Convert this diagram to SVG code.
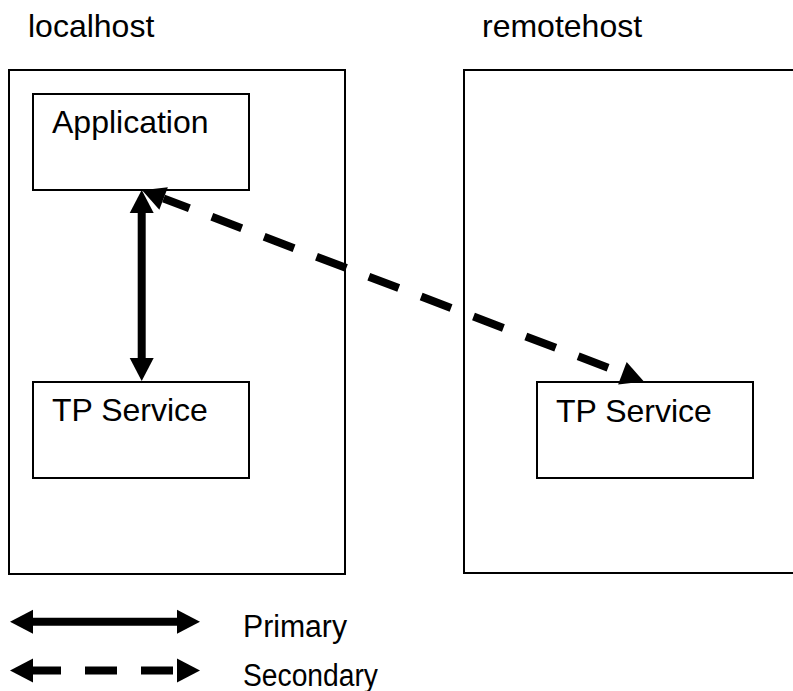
<svg xmlns="http://www.w3.org/2000/svg" width="793" height="691" viewBox="0 0 793 691">
<style>
  .box { fill: #fff; stroke: #000; stroke-width: 2; }
  .lbl { font-family: "Liberation Sans", Arial, sans-serif; font-size: 32px; fill: #000; }
  .leg { font-family: "Liberation Sans", Arial, sans-serif; font-size: 31px; fill: #000; }
  .solid { stroke: #000; stroke-width: 8; fill: none; }
  .dash { stroke: #000; stroke-width: 8; fill: none; stroke-dasharray: 32 24; }
</style>
<defs>
  <marker id="ah" markerUnits="userSpaceOnUse" markerWidth="24" markerHeight="24" refX="0" refY="12" orient="auto-start-reverse" viewBox="0 0 24 24" overflow="visible">
    <path d="M0,0 L23,12 L0,24 z" fill="#000"/>
  </marker>
</defs>
<rect width="793" height="691" fill="#fff"/>
<g id="localhost">
  <text class="lbl" x="28" y="37">localhost</text>
  <rect class="box" x="9" y="70" width="336" height="504"/>
</g>
<g id="remotehost">
  <text class="lbl" x="482" y="37">remotehost</text>
  <rect class="box" x="464" y="70" width="340" height="503"/>
</g>
<g id="application">
  <rect class="box" x="33" y="94" width="216" height="96"/>
  <text class="lbl" x="52" y="133">Application</text>
</g>
<g id="tp-local">
  <rect class="box" x="33" y="382" width="216" height="96"/>
  <text class="lbl" x="52" y="421">TP Service</text>
</g>
<g id="tp-remote">
  <rect class="box" x="537" y="382" width="216" height="96"/>
  <text class="lbl" x="556" y="422">TP Service</text>
</g>
<g id="connectors">
  <line class="solid" x1="141.7" y1="213" x2="141.7" y2="358" marker-start="url(#ah)" marker-end="url(#ah)"/>
  <line class="dash" x1="163.6" y1="198.5" x2="622.4" y2="373.2" stroke-dashoffset="4.4" marker-start="url(#ah)" marker-end="url(#ah)"/>
</g>
<g id="legend">
  <line class="solid" x1="33" y1="621.7" x2="177" y2="621.7" marker-start="url(#ah)" marker-end="url(#ah)"/>
  <text class="leg" x="243" y="637" textLength="104" lengthAdjust="spacingAndGlyphs">Primary</text>
  <line class="dash" x1="33" y1="670.5" x2="177" y2="670.5" stroke-dashoffset="4" marker-start="url(#ah)" marker-end="url(#ah)"/>
  <text class="leg" x="243" y="686" textLength="135" lengthAdjust="spacingAndGlyphs">Secondary</text>
</g>
</svg>
